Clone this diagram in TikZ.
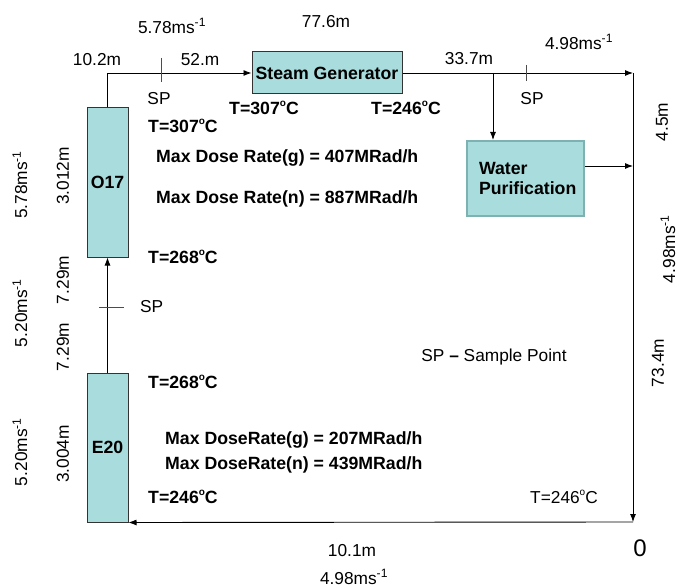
\documentclass[tikz,border=0pt]{standalone}
\usepackage{fontspec}
\setmainfont{Liberation Sans}
\usetikzlibrary{arrows.meta, positioning, calc}
\definecolor{unitfill}{RGB}{168,220,221}
\definecolor{wpedge}{RGB}{126,178,178}
\tikzset{
  unit/.style  = {rectangle, draw=black!80, fill=unitfill, line width=1pt,
                  inner sep=0pt, font=\fontsize{17.7}{20}\selectfont\bfseries},
  pipe/.style  = {-{Latex[length=8pt,width=6pt]}, line width=0.9pt},
  tickmk/.style = {line width=0.9pt, black!70},
  lbl/.style   = {inner sep=0pt, font=\fontsize{17.3}{19}\selectfont},
  blbl/.style  = {inner sep=0pt, anchor=west, font=\fontsize{17.7}{20}\selectfont\bfseries},
  vlbl/.style  = {lbl, rotate=90},
}
\newcommand{\degc}{\raisebox{0.42em}{\fontsize{10}{10}\selectfont o}C}
\newcommand{\perS}{ms\textsuperscript{-1}}

\begin{document}
\begin{tikzpicture}[x=1pt, y=-1pt]
  \useasboundingbox (0,0) rectangle (680,588);
  % units
  \node[unit, minimum width=41pt, minimum height=149pt] (o17) at (107.5,182.5) {O17};
  \node[unit, minimum width=41pt, minimum height=149pt] (e20) at (107.5,447.5) {E20};
  \node[unit, minimum width=150pt, minimum height=42pt] (sg)  at (327,73) {Steam Generator};
  \node[unit, draw=wpedge, line width=2pt, minimum height=75pt, text width=93pt,
        inner xsep=12pt, align=left] (wp) at (525.5,178.5) {Water\\Purification};
  \coordinate (tr)  at (633,73);
  \coordinate (brn) at (493,73);
  \coordinate (brc) at (633,522);
  \coordinate (wpout) at ([yshift=12.5pt]wp.east);
  % loop
  \draw[pipe] (e20.north) -- (o17.south);
  \draw[pipe] (o17.north) |- (sg.west);
  \draw[pipe] (sg.east) -- (tr);
  \draw[pipe] (brn) -- (brn |- wp.north);
  \draw[pipe] (wpout) -- (wpout -| tr);
  \draw[pipe] (tr) -- (brc);
  \draw[pipe] (brc) -- (e20.south east);
  % sample points
  \draw[tickmk] (161,58) -- (161,82);
  \draw[tickmk] (526,65) -- (526,81);
  \draw[tickmk] (99,307) -- (124,307);
  % top labels
  \node[lbl] (v1) at (172,26) {5.78\perS};
  \node[lbl] (l1) at (326,22) {77.6m};
  \node[lbl] (l2) at (97,60) {10.2m};
  \node[lbl] (l3) at (200,60) {52.m};
  \node[lbl] (sp1) at (159,99) {SP};
  \node[blbl, anchor=center] (t1) at (264,108) {T=307\degc};
  \node[blbl, anchor=center] (t2) at (406,108) {T=246\degc};
  \node[lbl] (l4) at (469,59) {33.7m};
  \node[lbl] (v2) at (579,42) {4.98\perS};
  \node[lbl] (sp2) at (532,99) {SP};
  % right labels
  \node[vlbl] (l5) at (662,122) {4.5m};
  \node[vlbl] (v3) at (668,249) {4.98\perS};
  \node[vlbl] (l6) at (658,363) {73.4m};
  \node[lbl, font=\fontsize{24}{26}\selectfont] (zero) at (640,548) {0};
  % unit data
  \node[blbl] (t3) at (148,126) {T=307\degc};
  \node[blbl] (d1) at (156,158) {Max Dose Rate(g) = 407MRad/h};
  \node[blbl] (d2) at (156,199) {Max Dose Rate(n) = 887MRad/h};
  \node[blbl] (t4) at (148,257) {T=268\degc};
  \node[lbl, anchor=west] (sp3) at (140,307) {SP};
  \node[blbl] (t5) at (148,382) {T=268\degc};
  \node[blbl] (d3) at (165,440) {Max DoseRate(g) = 207MRad/h};
  \node[blbl] (d4) at (165,465) {Max DoseRate(n) = 439MRad/h};
  \node[blbl] (t6) at (148,497) {T=246\degc};
  \node[lbl] (t7) at (564,497) {T=246\degc};
  \node[lbl] (key) at (494,357) {SP \textbf{--} Sample Point};
  % bottom labels
  \node[lbl] (l7) at (352,551) {10.1m};
  \node[lbl] (v4) at (354,577) {4.98\perS};
  % left labels
  \node[vlbl] (v5) at (20,185) {5.78\perS};
  \node[vlbl] (l8) at (63,176) {3.012m};
  \node[vlbl] (v6) at (20,313) {5.20\perS};
  \node[vlbl] (l9) at (63,280) {7.29m};
  \node[vlbl] (l10) at (63,347) {7.29m};
  \node[vlbl] (v7) at (20,452) {5.20\perS};
  \node[vlbl] (l11) at (63,454) {3.004m};
\end{tikzpicture}
\end{document}
